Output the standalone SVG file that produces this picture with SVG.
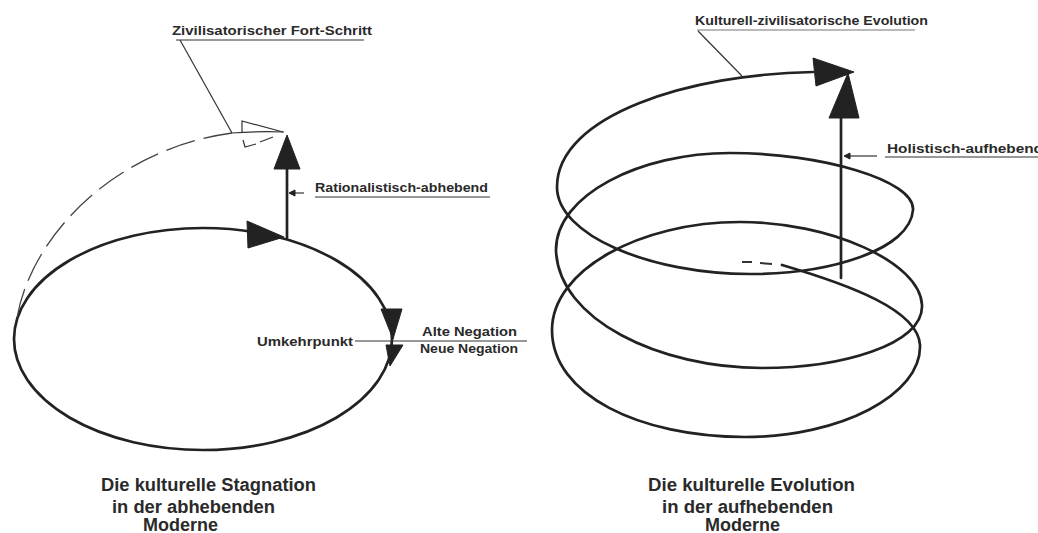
<svg xmlns="http://www.w3.org/2000/svg" width="1038" height="533" viewBox="0 0 1038 533">
<style>
.ln{fill:none;stroke:#222;stroke-width:2.7;stroke-linecap:round;stroke-linejoin:round}
.thin{fill:none;stroke:#333;stroke-width:1.2}
.dash{fill:none;stroke:#444;stroke-width:1.3;stroke-dasharray:30 9}
.ah{fill:#222;stroke:#222;stroke-width:1;stroke-linejoin:round}
.lbl{font-family:"Liberation Sans",Arial,sans-serif;font-weight:bold;fill:#2a2a2a}
.s12{font-size:13.5px}
.s17{font-size:17.5px}
</style>
<rect width="1038" height="533" fill="#ffffff"/>

<g id="left-diagram">
  <g id="left-cycle">
    <ellipse class="ln" cx="203" cy="339" rx="189" ry="111"/>
    <polygon class="ah" points="247,221 248,248 284,237"/>
    <polygon class="ah" points="381,309 402,309 393,339"/>
    <polygon class="ah" points="386,345 403,345 390,366"/>
  </g>
  <g id="left-lift">
    <line class="ln" x1="287" y1="238" x2="287" y2="168"/>
    <polygon class="ah" points="274,169 300,169 287,135"/>
  </g>
  <g id="left-dashed-progress">
    <path class="dash" d="M17 318 C30 240 110 150 232 133"/>
    <path class="thin" d="M232 133 Q258 131 284 132"/>
    <path class="thin" d="M242 132 L242 121 L283 132"/>
    <path class="thin" d="M243 140 L245 147 L256 144 M260 142 L273 137"/>
  </g>
  <g id="label-zivilisatorisch">
    <text class="lbl s12" x="172" y="35" textLength="200" lengthAdjust="spacingAndGlyphs">Zivilisatorischer Fort-Schritt</text>
    <line class="thin" x1="176" y1="40" x2="364" y2="40"/>
    <line class="thin" x1="180" y1="40" x2="232" y2="133"/>
  </g>
  <g id="label-rationalistisch">
    <text class="lbl s12" x="315" y="192" textLength="173" lengthAdjust="spacingAndGlyphs">Rationalistisch-abhebend</text>
    <line class="thin" x1="315" y1="197" x2="490" y2="197"/>
    <line class="thin" x1="304" y1="193" x2="292" y2="193"/>
    <polygon class="ah" points="289,193 295,190 295,196"/>
  </g>
  <g id="label-umkehrpunkt">
    <text class="lbl s12" x="257" y="346" textLength="96" lengthAdjust="spacingAndGlyphs">Umkehrpunkt</text>
    <line class="thin" x1="355" y1="341" x2="527" y2="341"/>
    <text class="lbl s12" x="422" y="336" textLength="95" lengthAdjust="spacingAndGlyphs">Alte Negation</text>
    <text class="lbl s12" x="420" y="353" textLength="98" lengthAdjust="spacingAndGlyphs">Neue Negation</text>
  </g>
  <g id="left-title">
    <text class="lbl s17" x="101" y="491" textLength="215" lengthAdjust="spacingAndGlyphs">Die kulturelle Stagnation</text>
    <text class="lbl s17" x="112" y="513" textLength="163" lengthAdjust="spacingAndGlyphs">in der abhebenden</text>
    <text class="lbl s17" x="143" y="531" textLength="75" lengthAdjust="spacingAndGlyphs">Moderne</text>
  </g>
</g>

<g id="right-diagram">
  <g id="helix">
    <path class="thin" d="M742 262 L752 262 M760 263 L772 264" style="stroke-width:2"/>
    <path class="ln" d="M782 265 C850 285 918 310 920 345 C922 395 840 437 745 437 C640 437 552 395 552 330 C552 270 640 222 740 222 C830 222 920 262 922 305 C924 345 840 368 762 368 C660 368 558 320 556 250 C556 195 640 153 730 153 C820 153 915 180 913 210 C910 250 830 274 750 274 C650 274 557 235 557 187 C557 115 690 74 813 72"/>
    <polygon class="ah" points="813,58 816,86 854,72"/>
  </g>
  <g id="right-lift">
    <line class="ln" x1="841" y1="278" x2="841" y2="117"/>
    <polygon class="ah" points="829,118 859,118 848,73"/>
  </g>
  <g id="label-kulturell">
    <text class="lbl s12" x="695" y="25" textLength="233" lengthAdjust="spacingAndGlyphs">Kulturell-zivilisatorische Evolution</text>
    <line class="thin" x1="697" y1="30" x2="915" y2="30" style="stroke:#777"/>
    <line class="thin" x1="698" y1="31" x2="742" y2="76"/>
  </g>
  <g id="label-holistisch">
    <text class="lbl s12" x="887" y="153" textLength="156" lengthAdjust="spacingAndGlyphs">Holistisch-aufhebend</text>
    <line class="thin" x1="885" y1="157" x2="1038" y2="157"/>
    <line class="thin" x1="877" y1="156" x2="847" y2="156"/>
    <polygon class="ah" points="844,156 850,153 850,159"/>
  </g>
  <g id="right-title">
    <text class="lbl s17" x="648" y="491" textLength="207" lengthAdjust="spacingAndGlyphs">Die kulturelle Evolution</text>
    <text class="lbl s17" x="662" y="513" textLength="171" lengthAdjust="spacingAndGlyphs">in der aufhebenden</text>
    <text class="lbl s17" x="705" y="531" textLength="75" lengthAdjust="spacingAndGlyphs">Moderne</text>
  </g>
</g>
</svg>
